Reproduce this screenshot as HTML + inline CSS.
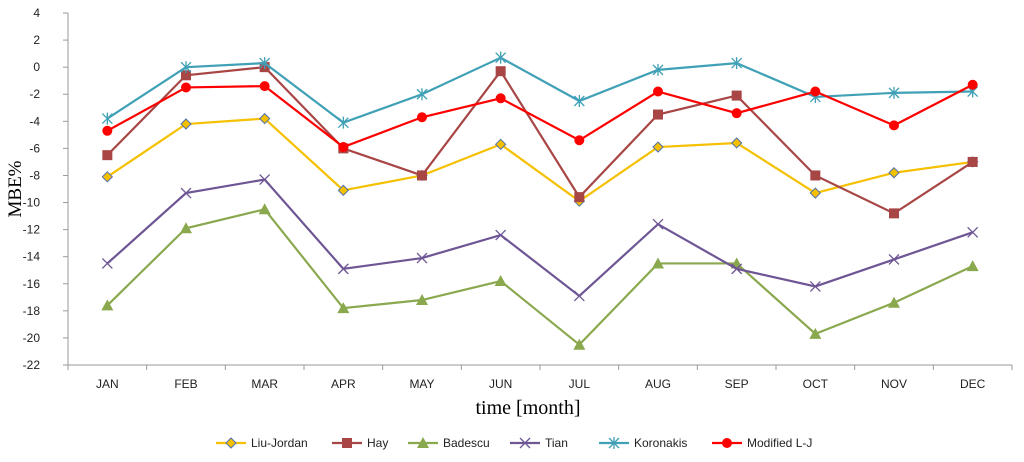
<!DOCTYPE html>
<html><head><meta charset="utf-8"><style>
body{margin:0;background:#fff;}
svg{display:block;font-family:"Liberation Sans",sans-serif;}
</style></head><body>
<svg id="c" width="1024" height="462"></svg>
<script>
const months=["JAN","FEB","MAR","APR","MAY","JUN","JUL","AUG","SEP","OCT","NOV","DEC"];
const yTicks=[4,2,0,-2,-4,-6,-8,-10,-12,-14,-16,-18,-20,-22];
const liuJordan=[-8.1,-4.2,-3.8,-9.1,-8,-5.7,-9.9,-5.9,-5.6,-9.3,-7.8,-7.0];
const hay=[-6.5,-0.6,0,-6,-8,-0.3,-9.6,-3.5,-2.1,-8,-10.8,-7];
const badescu=[-17.6,-11.9,-10.5,-17.8,-17.2,-15.8,-20.5,-14.5,-14.5,-19.7,-17.4,-14.7];
const tian=[-14.5,-9.3,-8.3,-14.9,-14.1,-12.4,-16.9,-11.6,-14.9,-16.2,-14.2,-12.2];
const koronakis=[-3.8,0,0.3,-4.1,-2,0.7,-2.5,-0.2,0.3,-2.2,-1.9,-1.8];
const modifiedLJ=[-4.7,-1.5,-1.4,-5.9,-3.7,-2.3,-5.4,-1.8,-3.4,-1.8,-4.3,-1.3];
const seriesNames=["Liu-Jordan","Hay","Badescu","Tian","Koronakis","Modified L-J"];

const NS="http://www.w3.org/2000/svg";
const svg=document.getElementById('c');
const X0=68,X1=1012,Y0=13,Y1=365,YMAX=4,YMIN=-22;
const bw=(X1-X0)/months.length;
const xs=i=>X0+bw*(i+0.5);
const ys=v=>Y0+(YMAX-v)/(YMAX-YMIN)*(Y1-Y0);
function el(t,a,p){const e=document.createElementNS(NS,t);for(const k in a)e.setAttribute(k,a[k]);(p||svg).appendChild(e);return e;}

// axes
let ax=el('line',{x1:X0,y1:Y0,x2:X0,y2:Y1,stroke:'#999','stroke-width':1});


let bx=el('line',{x1:X0,y1:Y1,x2:X1,y2:Y1,stroke:'#999','stroke-width':1});


yTicks.forEach(v=>{
  el('line',{x1:X0-5,y1:ys(v),x2:X0,y2:ys(v),stroke:'#999'});
  const t=el('text',{x:X0-28,y:ys(v)+4,'text-anchor':'end','font-size':12,fill:'#222'});
  t.textContent=v;
  
  
});
for(let i=0;i<=months.length;i++)el('line',{x1:X0+bw*i,y1:Y1,x2:X0+bw*i,y2:Y1+5,stroke:'#999'});
months.forEach((m,i)=>{
  const t=el('text',{x:xs(i),y:Y1+23,'text-anchor':'middle','font-size':12,fill:'#222'});
  t.textContent=m;
  
  
});
let yt=el('text',{x:0,y:0,transform:'translate(21,189) rotate(-90)','text-anchor':'middle','font-size':19,'font-family':'Liberation Serif,serif',fill:'#000'});
yt.textContent='MBE%';


let xt=el('text',{x:528,y:414,'text-anchor':'middle','font-size':20,'font-family':'Liberation Serif,serif',fill:'#000'});
xt.textContent='time [month]';



function marker(type,x,y,col,g){
  if(type==='diamond')el('polygon',{points:`${x},${y-5} ${x+5},${y} ${x},${y+5} ${x-5},${y}`,fill:'#f5c000',stroke:'#4f6fb0','stroke-width':1},g);
  else if(type==='square')el('rect',{x:x-5,y:y-5,width:10,height:10,fill:col},g);
  else if(type==='tri')el('polygon',{points:`${x},${y-6} ${x+6},${y+5} ${x-6},${y+5}`,fill:col},g);
  else if(type==='x'){el('path',{d:`M${x-5} ${y-5}L${x+5} ${y+5}M${x-5} ${y+5}L${x+5} ${y-5}`,stroke:col,'stroke-width':1.3},g);}
  else if(type==='star'){el('path',{d:`M${x-5} ${y-5}L${x+5} ${y+5}M${x-5} ${y+5}L${x+5} ${y-5}M${x} ${y-6}L${x} ${y+6}`,stroke:col,'stroke-width':1.3},g);}
  else if(type==='circle')el('circle',{cx:x,cy:y,r:5,fill:'#ff0000'},g);
}
const series=[
 [liuJordan,'#f5c000','diamond','series-liu-jordan'],
 [hay,'#a84545','square','series-hay'],
 [badescu,'#8aa84e','tri','series-badescu'],
 [tian,'#6e5594','x','series-tian'],
 [koronakis,'#3fa0b6','star','series-koronakis'],
 [modifiedLJ,'#ff0000','circle','series-modified-lj']
];
series.forEach(s=>{
  const g=el('g',{});
  
  
  el('polyline',{points:s[0].map((v,i)=>xs(i)+','+ys(v)).join(' '),fill:'none',stroke:s[1],'stroke-width':2.2},g);
  s[0].forEach((v,i)=>marker(s[2],xs(i),ys(v),s[1],g));
});
// legend
const lx=[216,332,408,510,599,712];
series.forEach((s,i)=>{
  const g=el('g',{});
  
  
  el('line',{x1:lx[i],y1:443,x2:lx[i]+30,y2:443,stroke:s[1],'stroke-width':2.2},g);
  marker(s[2],lx[i]+15,443,s[1],g);
  const t=el('text',{x:lx[i]+35,y:447,'font-size':12,fill:'#222'},g);
  t.textContent=seriesNames[i];
});
</script>
</body></html>
